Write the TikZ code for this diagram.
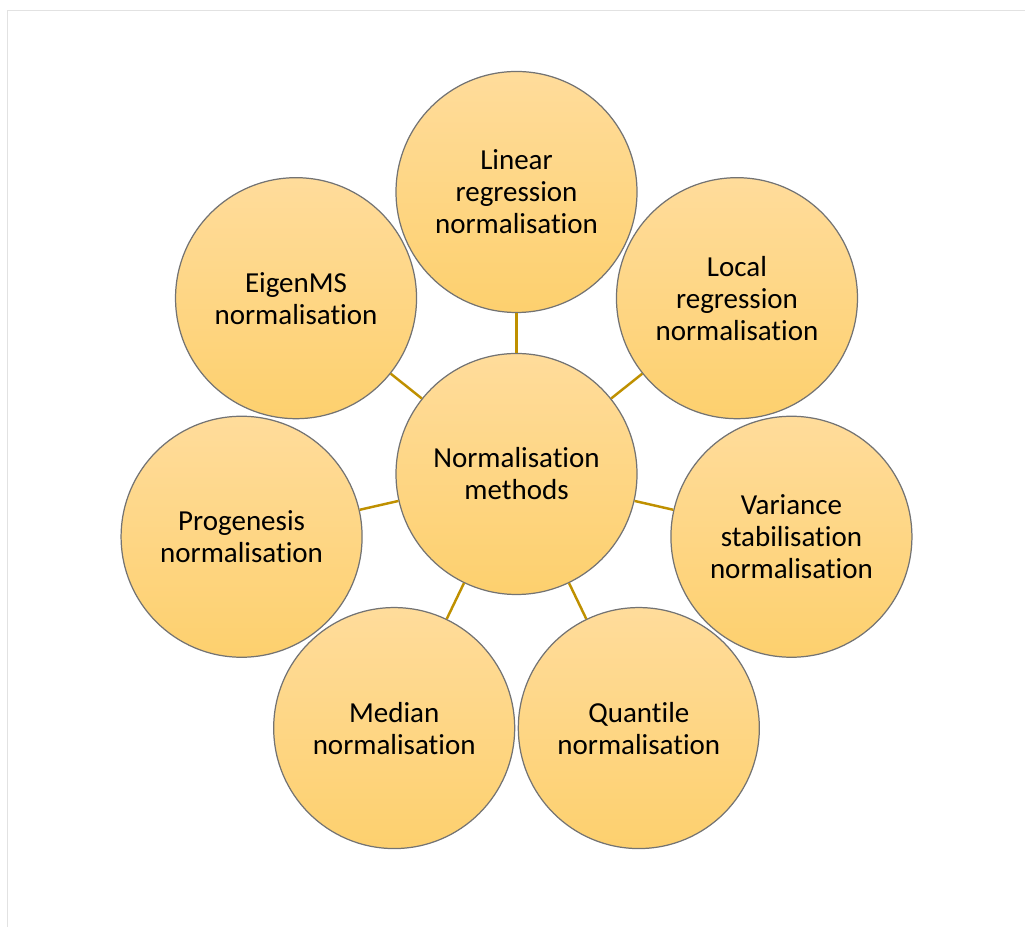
\documentclass[tikz,border=0pt]{standalone}
\usepackage{fontspec}
\setmainfont{Carlito}[Ligatures=NoCommon]
\usetikzlibrary{calc}
\definecolor{circtop}{HTML}{FFDC9B}
\definecolor{circbot}{HTML}{FDD06E}
\definecolor{spokecol}{HTML}{BF9000}
\definecolor{framecol}{HTML}{E2E2E2}
\tikzset{
  method/.style={circle,draw=gray!90!black,line width=0.7pt,top color=circtop,bottom color=circbot,
    minimum size=4.82cm,inner sep=0pt,align=center,font=\fontsize{16.5}{18.2}\selectfont},
  link/.style={draw=spokecol,line width=1.4pt}
}

\begin{document}
\begin{tikzpicture}
\useasboundingbox (0,0) rectangle (20.5,18.54);
\draw[framecol,line width=0.6pt] (0.15,0)--(0.15,18.33)--(20.5,18.33);
% hub and the seven methods round it
\node[method] (hub) at (10.33,9.06) {Normalisation\\methods};
\node[method] (linear) at ($(hub)+(90:5.64)$) {Linear\\regression\\normalisation};
\node[method] (local) at ($(hub)+(38.57:5.64)$) {Local\\regression\\normalisation};
\node[method] (variance) at ($(hub)+(-12.86:5.64)$) {Variance\\stabilisation\\normalisation};
\node[method] (quantile) at ($(hub)+(-64.29:5.64)$) {Quantile\\normalisation};
\node[method] (median) at ($(hub)+(-115.71:5.64)$) {Median\\normalisation};
\node[method] (progenesis) at ($(hub)+(-167.14:5.64)$) {Progenesis\\normalisation};
\node[method] (eigenms) at ($(hub)+(141.43:5.64)$) {EigenMS\\normalisation};
\foreach \m in {linear,local,variance,quantile,median,progenesis,eigenms}
  \draw[link] (hub)--(\m);
\end{tikzpicture}
\end{document}
